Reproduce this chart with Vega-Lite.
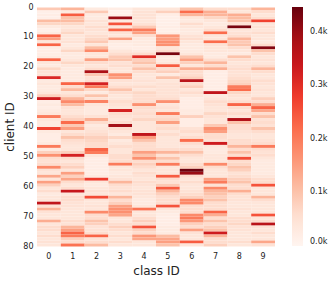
{
"$schema":"https://vega.github.io/schema/vega-lite/v6.json",
"autosize":{"type":"none"},
"padding":{"left":37,"top":7,"right":59,"bottom":36},
"width":238,"height":239,
"config":{"font":"DejaVu Sans","view":{"stroke":null},"axis":{"labelColor":"#222","titleColor":"#222","grid":false,"domain":false,"ticks":false,"titleFontWeight":"normal"}},
"data":{"values":[
{"k":0,"c":0,"v":90},{"k":0,"c":1,"v":120},{"k":0,"c":2,"v":30},{"k":0,"c":3,"v":20},{"k":0,"c":4,"v":40},{"k":0,"c":5,"v":40},{"k":0,"c":6,"v":100},{"k":0,"c":7,"v":60},{"k":0,"c":8,"v":60},{"k":0,"c":9,"v":120},
{"k":1,"c":0,"v":15},{"k":1,"c":1,"v":30},{"k":1,"c":2,"v":90},{"k":1,"c":3,"v":10},{"k":1,"c":4,"v":50},{"k":1,"c":5,"v":80},{"k":1,"c":6,"v":220},{"k":1,"c":7,"v":130},{"k":1,"c":8,"v":40},{"k":1,"c":9,"v":60},
{"k":2,"c":0,"v":20},{"k":2,"c":1,"v":240},{"k":2,"c":2,"v":30},{"k":2,"c":3,"v":15},{"k":2,"c":4,"v":50},{"k":2,"c":5,"v":20},{"k":2,"c":6,"v":120},{"k":2,"c":7,"v":120},{"k":2,"c":8,"v":130},{"k":2,"c":9,"v":40},
{"k":3,"c":0,"v":15},{"k":3,"c":1,"v":100},{"k":3,"c":2,"v":30},{"k":3,"c":3,"v":400},{"k":3,"c":4,"v":50},{"k":3,"c":5,"v":15},{"k":3,"c":6,"v":40},{"k":3,"c":7,"v":70},{"k":3,"c":8,"v":110},{"k":3,"c":9,"v":60},
{"k":4,"c":0,"v":110},{"k":4,"c":1,"v":110},{"k":4,"c":2,"v":50},{"k":4,"c":3,"v":30},{"k":4,"c":4,"v":40},{"k":4,"c":5,"v":15},{"k":4,"c":6,"v":30},{"k":4,"c":7,"v":40},{"k":4,"c":8,"v":100},{"k":4,"c":9,"v":270},
{"k":5,"c":0,"v":70},{"k":5,"c":1,"v":70},{"k":5,"c":2,"v":40},{"k":5,"c":3,"v":250},{"k":5,"c":4,"v":50},{"k":5,"c":5,"v":15},{"k":5,"c":6,"v":60},{"k":5,"c":7,"v":30},{"k":5,"c":8,"v":50},{"k":5,"c":9,"v":40},
{"k":6,"c":0,"v":30},{"k":6,"c":1,"v":40},{"k":6,"c":2,"v":60},{"k":6,"c":3,"v":40},{"k":6,"c":4,"v":90},{"k":6,"c":5,"v":20},{"k":6,"c":6,"v":40},{"k":6,"c":7,"v":40},{"k":6,"c":8,"v":430},{"k":6,"c":9,"v":50},
{"k":7,"c":0,"v":15},{"k":7,"c":1,"v":50},{"k":7,"c":2,"v":50},{"k":7,"c":3,"v":230},{"k":7,"c":4,"v":200},{"k":7,"c":5,"v":15},{"k":7,"c":6,"v":30},{"k":7,"c":7,"v":60},{"k":7,"c":8,"v":40},{"k":7,"c":9,"v":40},
{"k":8,"c":0,"v":30},{"k":8,"c":1,"v":70},{"k":8,"c":2,"v":40},{"k":8,"c":3,"v":50},{"k":8,"c":4,"v":150},{"k":8,"c":5,"v":20},{"k":8,"c":6,"v":30},{"k":8,"c":7,"v":220},{"k":8,"c":8,"v":50},{"k":8,"c":9,"v":60},
{"k":9,"c":0,"v":230},{"k":9,"c":1,"v":40},{"k":9,"c":2,"v":60},{"k":9,"c":3,"v":40},{"k":9,"c":4,"v":60},{"k":9,"c":5,"v":160},{"k":9,"c":6,"v":50},{"k":9,"c":7,"v":40},{"k":9,"c":8,"v":60},{"k":9,"c":9,"v":40},
{"k":10,"c":0,"v":150},{"k":10,"c":1,"v":40},{"k":10,"c":2,"v":70},{"k":10,"c":3,"v":150},{"k":10,"c":4,"v":30},{"k":10,"c":5,"v":150},{"k":10,"c":6,"v":60},{"k":10,"c":7,"v":40},{"k":10,"c":8,"v":120},{"k":10,"c":9,"v":40},
{"k":11,"c":0,"v":40},{"k":11,"c":1,"v":50},{"k":11,"c":2,"v":90},{"k":11,"c":3,"v":30},{"k":11,"c":4,"v":30},{"k":11,"c":5,"v":170},{"k":11,"c":6,"v":40},{"k":11,"c":7,"v":220},{"k":11,"c":8,"v":90},{"k":11,"c":9,"v":30},
{"k":12,"c":0,"v":230},{"k":12,"c":1,"v":30},{"k":12,"c":2,"v":40},{"k":12,"c":3,"v":20},{"k":12,"c":4,"v":30},{"k":12,"c":5,"v":170},{"k":12,"c":6,"v":30},{"k":12,"c":7,"v":50},{"k":12,"c":8,"v":100},{"k":12,"c":9,"v":60},
{"k":13,"c":0,"v":20},{"k":13,"c":1,"v":40},{"k":13,"c":2,"v":110},{"k":13,"c":3,"v":20},{"k":13,"c":4,"v":20},{"k":13,"c":5,"v":40},{"k":13,"c":6,"v":30},{"k":13,"c":7,"v":40},{"k":13,"c":8,"v":60},{"k":13,"c":9,"v":420},
{"k":14,"c":0,"v":20},{"k":14,"c":1,"v":70},{"k":14,"c":2,"v":180},{"k":14,"c":3,"v":40},{"k":14,"c":4,"v":30},{"k":14,"c":5,"v":60},{"k":14,"c":6,"v":30},{"k":14,"c":7,"v":40},{"k":14,"c":8,"v":40},{"k":14,"c":9,"v":100},
{"k":15,"c":0,"v":20},{"k":15,"c":1,"v":30},{"k":15,"c":2,"v":40},{"k":15,"c":3,"v":60},{"k":15,"c":4,"v":60},{"k":15,"c":5,"v":430},{"k":15,"c":6,"v":40},{"k":15,"c":7,"v":30},{"k":15,"c":8,"v":30},{"k":15,"c":9,"v":60},
{"k":16,"c":0,"v":30},{"k":16,"c":1,"v":30},{"k":16,"c":2,"v":40},{"k":16,"c":3,"v":90},{"k":16,"c":4,"v":300},{"k":16,"c":5,"v":30},{"k":16,"c":6,"v":100},{"k":16,"c":7,"v":30},{"k":16,"c":8,"v":100},{"k":16,"c":9,"v":40},
{"k":17,"c":0,"v":230},{"k":17,"c":1,"v":40},{"k":17,"c":2,"v":150},{"k":17,"c":3,"v":100},{"k":17,"c":4,"v":80},{"k":17,"c":5,"v":30},{"k":17,"c":6,"v":150},{"k":17,"c":7,"v":60},{"k":17,"c":8,"v":60},{"k":17,"c":9,"v":50},
{"k":18,"c":0,"v":40},{"k":18,"c":1,"v":70},{"k":18,"c":2,"v":60},{"k":18,"c":3,"v":50},{"k":18,"c":4,"v":100},{"k":18,"c":5,"v":40},{"k":18,"c":6,"v":80},{"k":18,"c":7,"v":120},{"k":18,"c":8,"v":40},{"k":18,"c":9,"v":40},
{"k":19,"c":0,"v":30},{"k":19,"c":1,"v":40},{"k":19,"c":2,"v":40},{"k":19,"c":3,"v":60},{"k":19,"c":4,"v":60},{"k":19,"c":5,"v":240},{"k":19,"c":6,"v":40},{"k":19,"c":7,"v":60},{"k":19,"c":8,"v":50},{"k":19,"c":9,"v":60},
{"k":20,"c":0,"v":70},{"k":20,"c":1,"v":30},{"k":20,"c":2,"v":60},{"k":20,"c":3,"v":40},{"k":20,"c":4,"v":100},{"k":20,"c":5,"v":60},{"k":20,"c":6,"v":130},{"k":20,"c":7,"v":130},{"k":20,"c":8,"v":60},{"k":20,"c":9,"v":120},
{"k":21,"c":0,"v":50},{"k":21,"c":1,"v":30},{"k":21,"c":2,"v":380},{"k":21,"c":3,"v":40},{"k":21,"c":4,"v":60},{"k":21,"c":5,"v":80},{"k":21,"c":6,"v":60},{"k":21,"c":7,"v":20},{"k":21,"c":8,"v":50},{"k":21,"c":9,"v":60},
{"k":22,"c":0,"v":50},{"k":22,"c":1,"v":30},{"k":22,"c":2,"v":90},{"k":22,"c":3,"v":170},{"k":22,"c":4,"v":40},{"k":22,"c":5,"v":30},{"k":22,"c":6,"v":60},{"k":22,"c":7,"v":20},{"k":22,"c":8,"v":50},{"k":22,"c":9,"v":40},
{"k":23,"c":0,"v":310},{"k":23,"c":1,"v":30},{"k":23,"c":2,"v":50},{"k":23,"c":3,"v":150},{"k":23,"c":4,"v":40},{"k":23,"c":5,"v":100},{"k":23,"c":6,"v":80},{"k":23,"c":7,"v":20},{"k":23,"c":8,"v":60},{"k":23,"c":9,"v":40},
{"k":24,"c":0,"v":30},{"k":24,"c":1,"v":30},{"k":24,"c":2,"v":60},{"k":24,"c":3,"v":50},{"k":24,"c":4,"v":50},{"k":24,"c":5,"v":40},{"k":24,"c":6,"v":360},{"k":24,"c":7,"v":20},{"k":24,"c":8,"v":70},{"k":24,"c":9,"v":60},
{"k":25,"c":0,"v":40},{"k":25,"c":1,"v":230},{"k":25,"c":2,"v":320},{"k":25,"c":3,"v":40},{"k":25,"c":4,"v":40},{"k":25,"c":5,"v":50},{"k":25,"c":6,"v":60},{"k":25,"c":7,"v":20},{"k":25,"c":8,"v":80},{"k":25,"c":9,"v":50},
{"k":26,"c":0,"v":30},{"k":26,"c":1,"v":60},{"k":26,"c":2,"v":200},{"k":26,"c":3,"v":60},{"k":26,"c":4,"v":60},{"k":26,"c":5,"v":50},{"k":26,"c":6,"v":80},{"k":26,"c":7,"v":20},{"k":26,"c":8,"v":200},{"k":26,"c":9,"v":40},
{"k":27,"c":0,"v":30},{"k":27,"c":1,"v":110},{"k":27,"c":2,"v":70},{"k":27,"c":3,"v":100},{"k":27,"c":4,"v":40},{"k":27,"c":5,"v":50},{"k":27,"c":6,"v":40},{"k":27,"c":7,"v":20},{"k":27,"c":8,"v":220},{"k":27,"c":9,"v":50},
{"k":28,"c":0,"v":40},{"k":28,"c":1,"v":40},{"k":28,"c":2,"v":30},{"k":28,"c":3,"v":60},{"k":28,"c":4,"v":70},{"k":28,"c":5,"v":50},{"k":28,"c":6,"v":60},{"k":28,"c":7,"v":350},{"k":28,"c":8,"v":70},{"k":28,"c":9,"v":40},
{"k":29,"c":0,"v":80},{"k":29,"c":1,"v":60},{"k":29,"c":2,"v":100},{"k":29,"c":3,"v":40},{"k":29,"c":4,"v":60},{"k":29,"c":5,"v":50},{"k":29,"c":6,"v":40},{"k":29,"c":7,"v":30},{"k":29,"c":8,"v":50},{"k":29,"c":9,"v":40},
{"k":30,"c":0,"v":330},{"k":30,"c":1,"v":120},{"k":30,"c":2,"v":50},{"k":30,"c":3,"v":40},{"k":30,"c":4,"v":60},{"k":30,"c":5,"v":60},{"k":30,"c":6,"v":20},{"k":30,"c":7,"v":40},{"k":30,"c":8,"v":40},{"k":30,"c":9,"v":80},
{"k":31,"c":0,"v":20},{"k":31,"c":1,"v":180},{"k":31,"c":2,"v":190},{"k":31,"c":3,"v":60},{"k":31,"c":4,"v":60},{"k":31,"c":5,"v":170},{"k":31,"c":6,"v":20},{"k":31,"c":7,"v":60},{"k":31,"c":8,"v":60},{"k":31,"c":9,"v":60},
{"k":32,"c":0,"v":30},{"k":32,"c":1,"v":110},{"k":32,"c":2,"v":40},{"k":32,"c":3,"v":50},{"k":32,"c":4,"v":170},{"k":32,"c":5,"v":40},{"k":32,"c":6,"v":20},{"k":32,"c":7,"v":50},{"k":32,"c":8,"v":230},{"k":32,"c":9,"v":130},
{"k":33,"c":0,"v":20},{"k":33,"c":1,"v":50},{"k":33,"c":2,"v":30},{"k":33,"c":3,"v":40},{"k":33,"c":4,"v":60},{"k":33,"c":5,"v":50},{"k":33,"c":6,"v":20},{"k":33,"c":7,"v":40},{"k":33,"c":8,"v":60},{"k":33,"c":9,"v":230},
{"k":34,"c":0,"v":30},{"k":34,"c":1,"v":40},{"k":34,"c":2,"v":30},{"k":34,"c":3,"v":320},{"k":34,"c":4,"v":50},{"k":34,"c":5,"v":40},{"k":34,"c":6,"v":30},{"k":34,"c":7,"v":40},{"k":34,"c":8,"v":40},{"k":34,"c":9,"v":140},
{"k":35,"c":0,"v":40},{"k":35,"c":1,"v":40},{"k":35,"c":2,"v":30},{"k":35,"c":3,"v":60},{"k":35,"c":4,"v":60},{"k":35,"c":5,"v":200},{"k":35,"c":6,"v":30},{"k":35,"c":7,"v":70},{"k":35,"c":8,"v":60},{"k":35,"c":9,"v":60},
{"k":36,"c":0,"v":200},{"k":36,"c":1,"v":60},{"k":36,"c":2,"v":50},{"k":36,"c":3,"v":50},{"k":36,"c":4,"v":50},{"k":36,"c":5,"v":60},{"k":36,"c":6,"v":80},{"k":36,"c":7,"v":50},{"k":36,"c":8,"v":40},{"k":36,"c":9,"v":100},
{"k":37,"c":0,"v":40},{"k":37,"c":1,"v":80},{"k":37,"c":2,"v":130},{"k":37,"c":3,"v":40},{"k":37,"c":4,"v":70},{"k":37,"c":5,"v":70},{"k":37,"c":6,"v":20},{"k":37,"c":7,"v":40},{"k":37,"c":8,"v":370},{"k":37,"c":9,"v":50},
{"k":38,"c":0,"v":30},{"k":38,"c":1,"v":220},{"k":38,"c":2,"v":60},{"k":38,"c":3,"v":60},{"k":38,"c":4,"v":40},{"k":38,"c":5,"v":150},{"k":38,"c":6,"v":20},{"k":38,"c":7,"v":40},{"k":38,"c":8,"v":100},{"k":38,"c":9,"v":60},
{"k":39,"c":0,"v":30},{"k":39,"c":1,"v":90},{"k":39,"c":2,"v":30},{"k":39,"c":3,"v":390},{"k":39,"c":4,"v":40},{"k":39,"c":5,"v":50},{"k":39,"c":6,"v":20},{"k":39,"c":7,"v":90},{"k":39,"c":8,"v":60},{"k":39,"c":9,"v":50},
{"k":40,"c":0,"v":270},{"k":40,"c":1,"v":150},{"k":40,"c":2,"v":40},{"k":40,"c":3,"v":60},{"k":40,"c":4,"v":40},{"k":40,"c":5,"v":60},{"k":40,"c":6,"v":50},{"k":40,"c":7,"v":170},{"k":40,"c":8,"v":60},{"k":40,"c":9,"v":100},
{"k":41,"c":0,"v":30},{"k":41,"c":1,"v":40},{"k":41,"c":2,"v":50},{"k":41,"c":3,"v":40},{"k":41,"c":4,"v":40},{"k":41,"c":5,"v":40},{"k":41,"c":6,"v":60},{"k":41,"c":7,"v":150},{"k":41,"c":8,"v":50},{"k":41,"c":9,"v":60},
{"k":42,"c":0,"v":20},{"k":42,"c":1,"v":60},{"k":42,"c":2,"v":60},{"k":42,"c":3,"v":30},{"k":42,"c":4,"v":350},{"k":42,"c":5,"v":60},{"k":42,"c":6,"v":40},{"k":42,"c":7,"v":60},{"k":42,"c":8,"v":40},{"k":42,"c":9,"v":40},
{"k":43,"c":0,"v":20},{"k":43,"c":1,"v":100},{"k":43,"c":2,"v":80},{"k":43,"c":3,"v":70},{"k":43,"c":4,"v":150},{"k":43,"c":5,"v":40},{"k":43,"c":6,"v":60},{"k":43,"c":7,"v":60},{"k":43,"c":8,"v":40},{"k":43,"c":9,"v":40},
{"k":44,"c":0,"v":20},{"k":44,"c":1,"v":60},{"k":44,"c":2,"v":70},{"k":44,"c":3,"v":30},{"k":44,"c":4,"v":100},{"k":44,"c":5,"v":40},{"k":44,"c":6,"v":220},{"k":44,"c":7,"v":50},{"k":44,"c":8,"v":60},{"k":44,"c":9,"v":50},
{"k":45,"c":0,"v":30},{"k":45,"c":1,"v":50},{"k":45,"c":2,"v":60},{"k":45,"c":3,"v":40},{"k":45,"c":4,"v":60},{"k":45,"c":5,"v":40},{"k":45,"c":6,"v":60},{"k":45,"c":7,"v":330},{"k":45,"c":8,"v":60},{"k":45,"c":9,"v":60},
{"k":46,"c":0,"v":200},{"k":46,"c":1,"v":40},{"k":46,"c":2,"v":60},{"k":46,"c":3,"v":60},{"k":46,"c":4,"v":60},{"k":46,"c":5,"v":40},{"k":46,"c":6,"v":40},{"k":46,"c":7,"v":40},{"k":46,"c":8,"v":120},{"k":46,"c":9,"v":200},
{"k":47,"c":0,"v":30},{"k":47,"c":1,"v":40},{"k":47,"c":2,"v":230},{"k":47,"c":3,"v":40},{"k":47,"c":4,"v":60},{"k":47,"c":5,"v":60},{"k":47,"c":6,"v":60},{"k":47,"c":7,"v":30},{"k":47,"c":8,"v":60},{"k":47,"c":9,"v":60},
{"k":48,"c":0,"v":80},{"k":48,"c":1,"v":80},{"k":48,"c":2,"v":200},{"k":48,"c":3,"v":40},{"k":48,"c":4,"v":150},{"k":48,"c":5,"v":120},{"k":48,"c":6,"v":100},{"k":48,"c":7,"v":30},{"k":48,"c":8,"v":100},{"k":48,"c":9,"v":50},
{"k":49,"c":0,"v":170},{"k":49,"c":1,"v":320},{"k":49,"c":2,"v":40},{"k":49,"c":3,"v":60},{"k":49,"c":4,"v":100},{"k":49,"c":5,"v":50},{"k":49,"c":6,"v":60},{"k":49,"c":7,"v":40},{"k":49,"c":8,"v":60},{"k":49,"c":9,"v":60},
{"k":50,"c":0,"v":60},{"k":50,"c":1,"v":60},{"k":50,"c":2,"v":20},{"k":50,"c":3,"v":60},{"k":50,"c":4,"v":170},{"k":50,"c":5,"v":100},{"k":50,"c":6,"v":40},{"k":50,"c":7,"v":40},{"k":50,"c":8,"v":260},{"k":50,"c":9,"v":40},
{"k":51,"c":0,"v":50},{"k":51,"c":1,"v":40},{"k":51,"c":2,"v":20},{"k":51,"c":3,"v":60},{"k":51,"c":4,"v":60},{"k":51,"c":5,"v":60},{"k":51,"c":6,"v":40},{"k":51,"c":7,"v":40},{"k":51,"c":8,"v":60},{"k":51,"c":9,"v":30},
{"k":52,"c":0,"v":60},{"k":52,"c":1,"v":60},{"k":52,"c":2,"v":20},{"k":52,"c":3,"v":200},{"k":52,"c":4,"v":80},{"k":52,"c":5,"v":200},{"k":52,"c":6,"v":60},{"k":52,"c":7,"v":180},{"k":52,"c":8,"v":70},{"k":52,"c":9,"v":30},
{"k":53,"c":0,"v":180},{"k":53,"c":1,"v":80},{"k":53,"c":2,"v":20},{"k":53,"c":3,"v":40},{"k":53,"c":4,"v":60},{"k":53,"c":5,"v":40},{"k":53,"c":6,"v":80},{"k":53,"c":7,"v":60},{"k":53,"c":8,"v":100},{"k":53,"c":9,"v":30},
{"k":54,"c":0,"v":50},{"k":54,"c":1,"v":40},{"k":54,"c":2,"v":20},{"k":54,"c":3,"v":40},{"k":54,"c":4,"v":40},{"k":54,"c":5,"v":40},{"k":54,"c":6,"v":440},{"k":54,"c":7,"v":40},{"k":54,"c":8,"v":80},{"k":54,"c":9,"v":30},
{"k":55,"c":0,"v":40},{"k":55,"c":1,"v":150},{"k":55,"c":2,"v":20},{"k":55,"c":3,"v":30},{"k":55,"c":4,"v":60},{"k":55,"c":5,"v":40},{"k":55,"c":6,"v":400},{"k":55,"c":7,"v":40},{"k":55,"c":8,"v":50},{"k":55,"c":9,"v":30},
{"k":56,"c":0,"v":140},{"k":56,"c":1,"v":80},{"k":56,"c":2,"v":30},{"k":56,"c":3,"v":40},{"k":56,"c":4,"v":50},{"k":56,"c":5,"v":240},{"k":56,"c":6,"v":60},{"k":56,"c":7,"v":40},{"k":56,"c":8,"v":60},{"k":56,"c":9,"v":40},
{"k":57,"c":0,"v":40},{"k":57,"c":1,"v":140},{"k":57,"c":2,"v":280},{"k":57,"c":3,"v":50},{"k":57,"c":4,"v":40},{"k":57,"c":5,"v":60},{"k":57,"c":6,"v":40},{"k":57,"c":7,"v":150},{"k":57,"c":8,"v":80},{"k":57,"c":9,"v":60},
{"k":58,"c":0,"v":150},{"k":58,"c":1,"v":60},{"k":58,"c":2,"v":40},{"k":58,"c":3,"v":120},{"k":58,"c":4,"v":60},{"k":58,"c":5,"v":50},{"k":58,"c":6,"v":60},{"k":58,"c":7,"v":200},{"k":58,"c":8,"v":100},{"k":58,"c":9,"v":60},
{"k":59,"c":0,"v":80},{"k":59,"c":1,"v":40},{"k":59,"c":2,"v":30},{"k":59,"c":3,"v":60},{"k":59,"c":4,"v":50},{"k":59,"c":5,"v":90},{"k":59,"c":6,"v":40},{"k":59,"c":7,"v":50},{"k":59,"c":8,"v":60},{"k":59,"c":9,"v":250},
{"k":60,"c":0,"v":40},{"k":60,"c":1,"v":60},{"k":60,"c":2,"v":40},{"k":60,"c":3,"v":50},{"k":60,"c":4,"v":40},{"k":60,"c":5,"v":240},{"k":60,"c":6,"v":40},{"k":60,"c":7,"v":180},{"k":60,"c":8,"v":60},{"k":60,"c":9,"v":40},
{"k":61,"c":0,"v":60},{"k":61,"c":1,"v":340},{"k":61,"c":2,"v":50},{"k":61,"c":3,"v":60},{"k":61,"c":4,"v":50},{"k":61,"c":5,"v":120},{"k":61,"c":6,"v":50},{"k":61,"c":7,"v":120},{"k":61,"c":8,"v":130},{"k":61,"c":9,"v":40},
{"k":62,"c":0,"v":30},{"k":62,"c":1,"v":40},{"k":62,"c":2,"v":40},{"k":62,"c":3,"v":40},{"k":62,"c":4,"v":50},{"k":62,"c":5,"v":80},{"k":62,"c":6,"v":60},{"k":62,"c":7,"v":100},{"k":62,"c":8,"v":60},{"k":62,"c":9,"v":40},
{"k":63,"c":0,"v":40},{"k":63,"c":1,"v":60},{"k":63,"c":2,"v":260},{"k":63,"c":3,"v":120},{"k":63,"c":4,"v":40},{"k":63,"c":5,"v":60},{"k":63,"c":6,"v":80},{"k":63,"c":7,"v":80},{"k":63,"c":8,"v":50},{"k":63,"c":9,"v":120},
{"k":64,"c":0,"v":40},{"k":64,"c":1,"v":60},{"k":64,"c":2,"v":40},{"k":64,"c":3,"v":60},{"k":64,"c":4,"v":30},{"k":64,"c":5,"v":60},{"k":64,"c":6,"v":180},{"k":64,"c":7,"v":100},{"k":64,"c":8,"v":50},{"k":64,"c":9,"v":60},
{"k":65,"c":0,"v":350},{"k":65,"c":1,"v":50},{"k":65,"c":2,"v":40},{"k":65,"c":3,"v":80},{"k":65,"c":4,"v":30},{"k":65,"c":5,"v":60},{"k":65,"c":6,"v":180},{"k":65,"c":7,"v":60},{"k":65,"c":8,"v":40},{"k":65,"c":9,"v":40},
{"k":66,"c":0,"v":50},{"k":66,"c":1,"v":50},{"k":66,"c":2,"v":50},{"k":66,"c":3,"v":150},{"k":66,"c":4,"v":40},{"k":66,"c":5,"v":250},{"k":66,"c":6,"v":60},{"k":66,"c":7,"v":60},{"k":66,"c":8,"v":40},{"k":66,"c":9,"v":40},
{"k":67,"c":0,"v":120},{"k":67,"c":1,"v":40},{"k":67,"c":2,"v":40},{"k":67,"c":3,"v":170},{"k":67,"c":4,"v":210},{"k":67,"c":5,"v":40},{"k":67,"c":6,"v":60},{"k":67,"c":7,"v":60},{"k":67,"c":8,"v":50},{"k":67,"c":9,"v":40},
{"k":68,"c":0,"v":50},{"k":68,"c":1,"v":40},{"k":68,"c":2,"v":180},{"k":68,"c":3,"v":170},{"k":68,"c":4,"v":40},{"k":68,"c":5,"v":30},{"k":68,"c":6,"v":60},{"k":68,"c":7,"v":230},{"k":68,"c":8,"v":40},{"k":68,"c":9,"v":40},
{"k":69,"c":0,"v":40},{"k":69,"c":1,"v":40},{"k":69,"c":2,"v":60},{"k":69,"c":3,"v":140},{"k":69,"c":4,"v":40},{"k":69,"c":5,"v":20},{"k":69,"c":6,"v":180},{"k":69,"c":7,"v":130},{"k":69,"c":8,"v":40},{"k":69,"c":9,"v":250},
{"k":70,"c":0,"v":40},{"k":70,"c":1,"v":40},{"k":70,"c":2,"v":60},{"k":70,"c":3,"v":40},{"k":70,"c":4,"v":60},{"k":70,"c":5,"v":20},{"k":70,"c":6,"v":200},{"k":70,"c":7,"v":60},{"k":70,"c":8,"v":60},{"k":70,"c":9,"v":40},
{"k":71,"c":0,"v":130},{"k":71,"c":1,"v":60},{"k":71,"c":2,"v":100},{"k":71,"c":3,"v":40},{"k":71,"c":4,"v":80},{"k":71,"c":5,"v":20},{"k":71,"c":6,"v":160},{"k":71,"c":7,"v":100},{"k":71,"c":8,"v":60},{"k":71,"c":9,"v":60},
{"k":72,"c":0,"v":40},{"k":72,"c":1,"v":50},{"k":72,"c":2,"v":80},{"k":72,"c":3,"v":60},{"k":72,"c":4,"v":60},{"k":72,"c":5,"v":20},{"k":72,"c":6,"v":80},{"k":72,"c":7,"v":60},{"k":72,"c":8,"v":70},{"k":72,"c":9,"v":360},
{"k":73,"c":0,"v":60},{"k":73,"c":1,"v":120},{"k":73,"c":2,"v":50},{"k":73,"c":3,"v":80},{"k":73,"c":4,"v":250},{"k":73,"c":5,"v":30},{"k":73,"c":6,"v":60},{"k":73,"c":7,"v":80},{"k":73,"c":8,"v":50},{"k":73,"c":9,"v":50},
{"k":74,"c":0,"v":60},{"k":74,"c":1,"v":150},{"k":74,"c":2,"v":50},{"k":74,"c":3,"v":60},{"k":74,"c":4,"v":80},{"k":74,"c":5,"v":30},{"k":74,"c":6,"v":150},{"k":74,"c":7,"v":100},{"k":74,"c":8,"v":50},{"k":74,"c":9,"v":40},
{"k":75,"c":0,"v":40},{"k":75,"c":1,"v":230},{"k":75,"c":2,"v":60},{"k":75,"c":3,"v":40},{"k":75,"c":4,"v":60},{"k":75,"c":5,"v":30},{"k":75,"c":6,"v":50},{"k":75,"c":7,"v":330},{"k":75,"c":8,"v":40},{"k":75,"c":9,"v":60},
{"k":76,"c":0,"v":60},{"k":76,"c":1,"v":200},{"k":76,"c":2,"v":230},{"k":76,"c":3,"v":60},{"k":76,"c":4,"v":160},{"k":76,"c":5,"v":110},{"k":76,"c":6,"v":40},{"k":76,"c":7,"v":120},{"k":76,"c":8,"v":40},{"k":76,"c":9,"v":40},
{"k":77,"c":0,"v":40},{"k":77,"c":1,"v":80},{"k":77,"c":2,"v":50},{"k":77,"c":3,"v":40},{"k":77,"c":4,"v":140},{"k":77,"c":5,"v":140},{"k":77,"c":6,"v":40},{"k":77,"c":7,"v":60},{"k":77,"c":8,"v":40},{"k":77,"c":9,"v":40},
{"k":78,"c":0,"v":50},{"k":78,"c":1,"v":60},{"k":78,"c":2,"v":60},{"k":78,"c":3,"v":60},{"k":78,"c":4,"v":40},{"k":78,"c":5,"v":150},{"k":78,"c":6,"v":240},{"k":78,"c":7,"v":60},{"k":78,"c":8,"v":60},{"k":78,"c":9,"v":140},
{"k":79,"c":0,"v":40},{"k":79,"c":1,"v":210},{"k":79,"c":2,"v":110},{"k":79,"c":3,"v":40},{"k":79,"c":4,"v":40},{"k":79,"c":5,"v":100},{"k":79,"c":6,"v":40},{"k":79,"c":7,"v":80},{"k":79,"c":8,"v":40},{"k":79,"c":9,"v":50}
]},
"mark":{"type":"rect"},
"encoding":{
"x":{"field":"c","type":"ordinal","scale":{"paddingInner":0,"paddingOuter":0},"axis":{"title":"class ID","labelAngle":0,"labelPadding":6,"labelFontSize":8,"titleFontSize":12,"titlePadding":5}},
"y":{"field":"k","type":"quantitative","bin":{"step":1,"extent":[0,80]},"scale":{"domain":[0,80],"reverse":true,"nice":false,"zero":false},"axis":{"title":"client ID","values":[0,10,20,30,40,50,60,70,80],"format":"d","labelPadding":4,"labelFontSize":8,"titleFontSize":12,"titlePadding":6}},
"color":{"field":"v","type":"quantitative","scale":{"type":"linear","domain":[0,55.75,111.5,167.25,223,278.75,334.5,390.25,446],"range":["#fff5f0","#fee0d2","#fcbba1","#fc9272","#fb6a4a","#ef3b2c","#cb181d","#a50f15","#67000d"],"interpolate":"rgb","clamp":true},"legend":{"title":null,"direction":"vertical","gradientLength":239,"gradientThickness":11,"gradientStrokeWidth":0,"values":[0,100,200,300,400],"labelExpr":"format(datum.value/1000,'.1f')+'k'","labelFontSize":8,"labelColor":"#222","offset":17,"labelOffset":7,"padding":0}}
}
}
